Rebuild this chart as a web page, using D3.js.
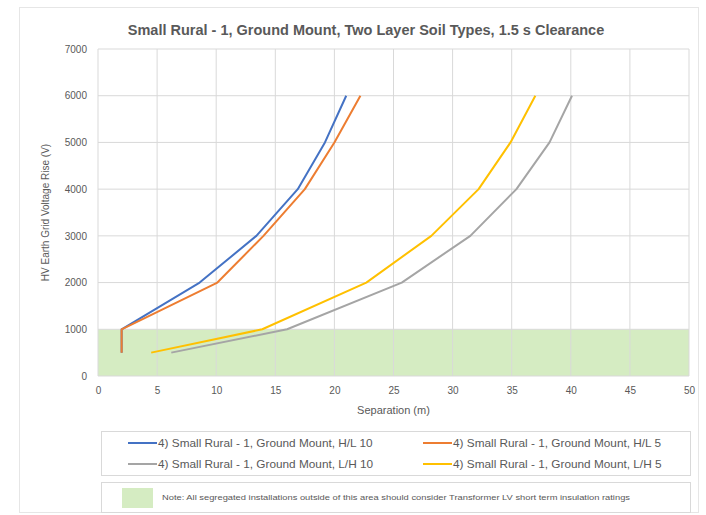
<!DOCTYPE html>
<html>
<head>
<meta charset="utf-8">
<script src="https://cdn.jsdelivr.net/npm/d3@7"></script>
<style>
  body { margin: 0; background: #fff; }
  text { font-family: "Liberation Sans", Arial, sans-serif; }
</style>
</head>
<body>
<div id="chart"></div>
<script>
// chart values
var seriesNames = [
  "4) Small Rural - 1, Ground Mount, H/L 10",
  "4) Small Rural - 1, Ground Mount, H/L 5",
  "4) Small Rural - 1, Ground Mount, L/H 10",
  "4) Small Rural - 1, Ground Mount, L/H 5"
];
var voltages = [500, 1000, 2000, 3000, 4000, 5000, 6000];
var sepHL10 = [2, 2, 8.6, 13.4, 16.9, 19.2, 21.0];
var sepHL5  = [2, 2, 10.1, 14.0, 17.5, 20.0, 22.2];
var sepLH10 = [6.2, 16.0, 25.7, 31.5, 35.4, 38.2, 40.1];
var sepLH5  = [4.5, 13.9, 22.7, 28.2, 32.2, 34.9, 37.0];
var xTicks = [0, 5, 10, 15, 20, 25, 30, 35, 40, 45, 50];
var yTicks = [0, 1000, 2000, 3000, 4000, 5000, 6000, 7000];
var zoneTop = 1000;
var noteText = "Note: All segregated  installations  outside of this area should consider Transformer  LV short term  insulation  ratings";

var colors = ["#4472c4", "#ed7d31", "#a5a5a5", "#ffc000"];
var allSeps = [sepHL10, sepHL5, sepLH10, sepLH5];

var W = 706, H = 515;
var margin = {top: 49, right: 17, bottom: 139, left: 98};
var width = W - margin.left - margin.right,
    height = H - margin.top - margin.bottom;

var svg = d3.select("#chart")
  .append("svg")
    .attr("width", W)
    .attr("height", H);

// outer chart border
svg.append("rect")
  .attr("x", 19.5).attr("y", 7.5)
  .attr("width", 679).attr("height", 505)
  .attr("fill", "none")
  .attr("stroke", "#e6e6e6");

var g = svg.append("g")
  .attr("transform", "translate(" + margin.left + "," + margin.top + ")");

var x = d3.scaleLinear().domain([0, 50]).range([0, width]);
var y = d3.scaleLinear().domain([0, 7000]).range([height, 0]);

// green area under 1000 V
g.append("rect")
  .attr("x", x(0))
  .attr("y", y(zoneTop))
  .attr("width", x(50) - x(0))
  .attr("height", y(0) - y(zoneTop))
  .attr("fill", "#d5ecc2");

// grid
g.selectAll(".vgrid")
  .data(xTicks)
  .enter()
  .append("line")
    .attr("x1", d => x(d)).attr("x2", d => x(d))
    .attr("y1", 0).attr("y2", height)
    .attr("stroke", "#d9d9d9")
    .attr("stroke-width", 1);

g.selectAll(".hgrid")
  .data(yTicks)
  .enter()
  .append("line")
    .attr("x1", 0).attr("x2", width)
    .attr("y1", d => y(d)).attr("y2", d => y(d))
    .attr("stroke", "#d9d9d9")
    .attr("stroke-width", 1);

// axes (labels only, no domain line)
var xAxis = g.append("g")
  .attr("transform", "translate(0," + height + ")")
  .call(d3.axisBottom(x).tickValues(xTicks).tickSize(0).tickPadding(11));
var yAxis = g.append("g")
  .call(d3.axisLeft(y).tickValues(yTicks).tickSize(0).tickPadding(11).tickFormat(d3.format("d")));
[xAxis, yAxis].forEach(function(a) {
  a.select(".domain").remove();
  a.selectAll("text")
    .attr("font-family", "Liberation Sans, Arial, sans-serif")
    .attr("font-size", "10px")
    .attr("fill", "#595959");
});

// lines
var line = d3.line()
  .x(d => x(d[0]))
  .y(d => y(d[1]));

allSeps.forEach(function(seps, i) {
  var pts = seps.map((s, j) => [s, voltages[j]]);
  g.append("path")
    .datum(pts)
    .attr("d", line)
    .attr("fill", "none")
    .attr("stroke", colors[i])
    .attr("stroke-width", 2)
    .attr("stroke-linejoin", "round");
});

// title
svg.append("text")
  .attr("x", 366)
  .attr("y", 35)
  .attr("text-anchor", "middle")
  .attr("font-size", "14.5px")
  .attr("font-weight", "bold")
  .attr("fill", "#595959")
  .text("Small Rural - 1, Ground Mount, Two Layer Soil Types, 1.5 s Clearance");

// axis titles
svg.append("text")
  .attr("x", margin.left + width / 2)
  .attr("y", 414)
  .attr("text-anchor", "middle")
  .attr("font-size", "11px")
  .attr("fill", "#595959")
  .text("Separation (m)");

svg.append("text")
  .attr("transform", "translate(49," + (margin.top + height / 2) + ") rotate(-90)")
  .attr("text-anchor", "middle")
  .attr("font-size", "10px")
  .attr("fill", "#595959")
  .text("HV Earth Grid Voltage Rise (V)");

// legend box
svg.append("rect")
  .attr("x", 101.5).attr("y", 431.5)
  .attr("width", 589).attr("height", 44)
  .attr("fill", "none")
  .attr("stroke", "#d9d9d9");

var legendPos = [[128, 443], [423, 443], [128, 464], [423, 464]];
legendPos.forEach(function(p, i) {
  svg.append("line")
    .attr("x1", p[0]).attr("x2", p[0] + 29)
    .attr("y1", p[1]).attr("y2", p[1])
    .attr("stroke", colors[i])
    .attr("stroke-width", 2);
  svg.append("text")
    .attr("x", p[0] + 30)
    .attr("y", p[1] + 4)
    .attr("font-size", "11.8px")
    .attr("fill", "#595959")
    .text(seriesNames[i]);
});

// note box
svg.append("rect")
  .attr("x", 101.5).attr("y", 482.5)
  .attr("width", 589).attr("height", 30)
  .attr("fill", "none")
  .attr("stroke", "#d9d9d9");

svg.append("rect")
  .attr("x", 122).attr("y", 488)
  .attr("width", 31).attr("height", 20)
  .attr("fill", "#d5ecc2");

svg.append("text")
  .attr("x", 162)
  .attr("y", 500)
  .attr("font-size", "7px")
  .attr("fill", "#595959")
  .attr("textLength", 468)
  .attr("lengthAdjust", "spacingAndGlyphs")
  .text(noteText);
</script>
</body>
</html>
